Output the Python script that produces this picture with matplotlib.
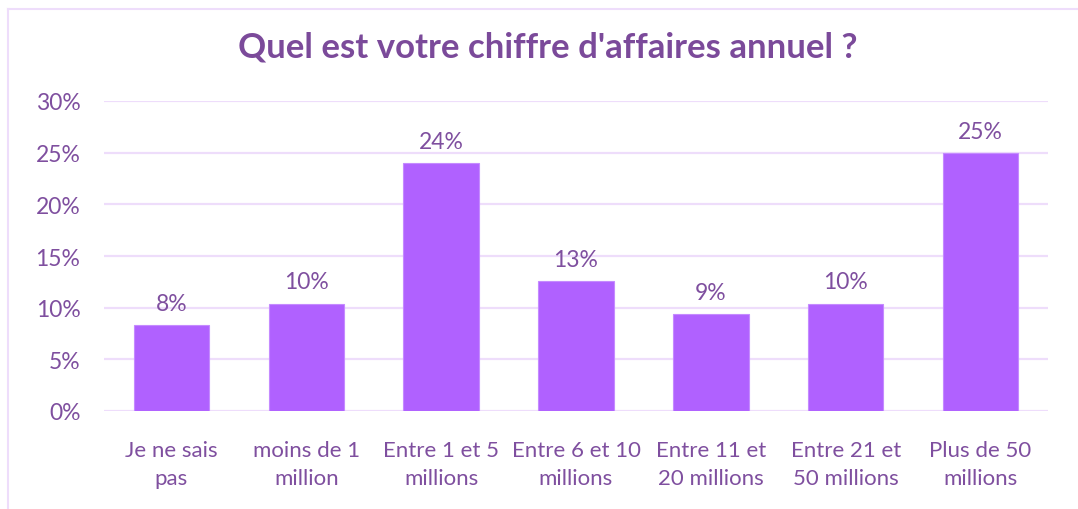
import matplotlib
matplotlib.use("Agg")
import matplotlib.pyplot as plt
from matplotlib.lines import Line2D

categories = ["Je ne sais\npas", "moins de 1\nmillion", "Entre 1 et 5\nmillions",
              "Entre 6 et 10\nmillions", "Entre 11 et\n20 millions", "Entre 21 et\n50 millions",
              "Plus de 50\nmillions"]
values = [8.3, 10.4, 24.0, 12.6, 9.4, 10.4, 25.0]
yticks = [0, 5, 10, 15, 20, 25, 30]
title = "Quel est votre chiffre d'affaires annuel ?"

bar_color = "#B061FF"
text_color = "#7F4F9F"
title_color = "#7B4A9A"
grid_color = "#EEDDFB"

plt.rcParams['font.family'] = ['Lato', 'DejaVu Sans']

fig = plt.figure(figsize=(10.78, 5.10), dpi=100)
ax = fig.add_axes([104/1078, 1-412/510, (1048-104)/1078, (412-102)/510])

x = range(len(categories))
bars = ax.bar(x, values, width=0.56, color=bar_color, edgecolor="#C58BFF", linewidth=0.8, zorder=3)
for xi, v in zip(x, values):
    ax.annotate(f"{round(v):.0f}%", (xi, v), xytext=(0, 8), textcoords="offset points",
                ha="center", va="bottom", fontsize=16.5, color=text_color)

ax.set_ylim(0, 30)
ax.set_xlim(-0.5, len(categories) - 0.5)
ax.set_yticks(yticks)
ax.set_yticklabels([f"{t}%" for t in yticks])
ax.set_xticks(list(x))
ax.set_xticklabels(categories, linespacing=1.5)
ax.tick_params(axis="y", length=0, pad=17, labelsize=16.5, labelcolor=text_color)
ax.tick_params(axis="x", length=0, pad=21, labelsize=16, labelcolor=text_color)
ax.yaxis.grid(True, color=grid_color, linewidth=1.6, zorder=0)
ax.set_axisbelow(True)
for s in ax.spines.values():
    s.set_visible(False)

fig.text(548/1078, 1-48/510, title, ha="center", va="center", fontsize=25,
         fontweight="bold", color=title_color)

fig.add_artist(Line2D([8/1078, 8/1078], [0, 1-10/510], transform=fig.transFigure,
                      color=grid_color, linewidth=1.5))
fig.add_artist(Line2D([8/1078, 1], [1-10/510, 1-10/510], transform=fig.transFigure,
                      color=grid_color, linewidth=1.5))

fig.savefig("out.png", dpi=100)
